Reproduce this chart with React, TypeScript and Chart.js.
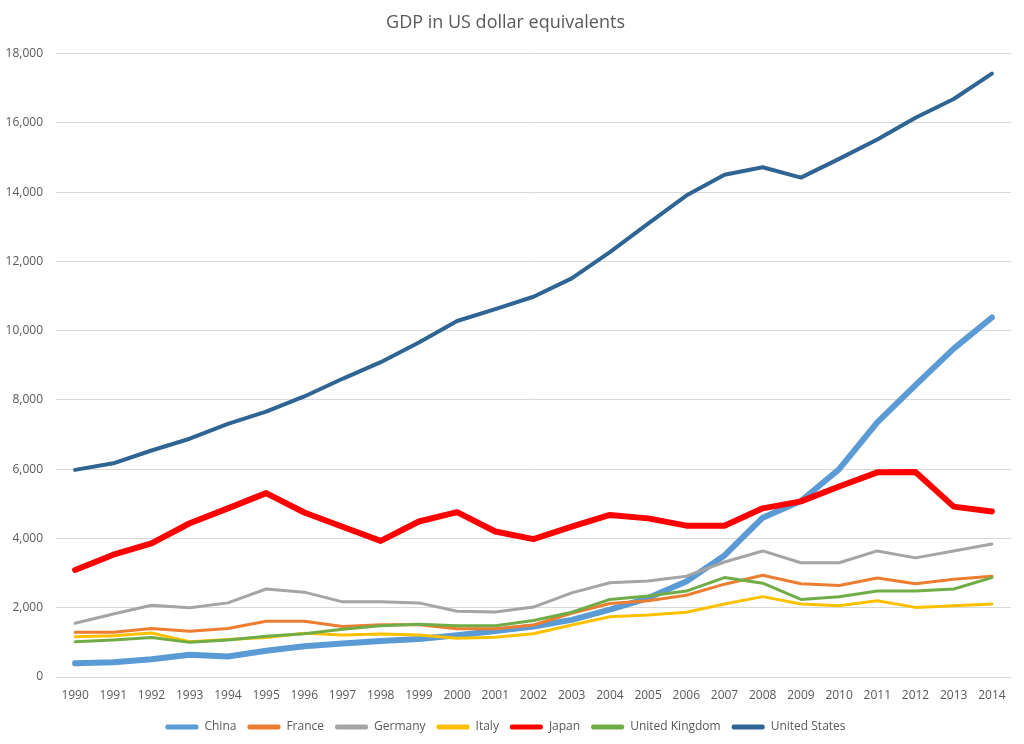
import React, { useEffect, useRef } from "react";
import { Chart, registerables } from "chart.js";

Chart.register(...registerables);

const years = ["1990","1991","1992","1993","1994","1995","1996","1997","1998","1999","2000","2001","2002","2003","2004","2005","2006","2007","2008","2009","2010","2011","2012","2013","2014"];

const china = [395, 424, 511, 640, 590, 760, 885, 965, 1040, 1095, 1205, 1330, 1460, 1650, 1945, 2280, 2760, 3510, 4600, 5080, 6000, 7350, 8430, 9480, 10380];
const france = [1290, 1290, 1400, 1320, 1400, 1610, 1610, 1460, 1510, 1510, 1390, 1390, 1500, 1840, 2120, 2200, 2360, 2680, 2940, 2690, 2640, 2860, 2690, 2820, 2910];
const germany = [1550, 1820, 2070, 2000, 2140, 2540, 2450, 2170, 2170, 2140, 1900, 1880, 2020, 2430, 2720, 2770, 2910, 3320, 3640, 3300, 3300, 3640, 3440, 3640, 3840];
const italy = [1160, 1190, 1270, 1020, 1080, 1140, 1260, 1210, 1240, 1210, 1120, 1150, 1250, 1500, 1740, 1790, 1870, 2110, 2320, 2110, 2060, 2200, 2010, 2060, 2110];
const japan = [3090, 3530, 3860, 4440, 4870, 5310, 4750, 4340, 3930, 4490, 4760, 4200, 3980, 4340, 4680, 4580, 4370, 4370, 4870, 5070, 5500, 5910, 5920, 4920, 4780];
const uk = [1020, 1070, 1140, 1000, 1070, 1180, 1250, 1380, 1480, 1520, 1480, 1480, 1630, 1870, 2240, 2340, 2480, 2870, 2710, 2240, 2320, 2480, 2480, 2540, 2870];
const us = [5980, 6170, 6540, 6880, 7310, 7660, 8100, 8610, 9090, 9660, 10280, 10620, 10980, 11510, 12270, 13090, 13900, 14500, 14720, 14420, 14960, 15520, 16150, 16690, 17420];

const seriesNames = ["China", "France", "Germany", "Italy", "Japan", "United Kingdom", "United States"];
const seriesValues = [china, france, germany, italy, japan, uk, us];
const seriesColors = ["#5b9bd5", "#ed7d31", "#a5a5a5", "#ffc000", "#ff0000", "#70ad47", "#2e6595"];
const seriesWidths = [6, 3, 3, 3, 6, 3, 4];

const yTickMax = 18000;
const yTickStep = 2000;

export default function App() {
  const ref = useRef<HTMLCanvasElement | null>(null);

  useEffect(() => {
    if (!ref.current) return;
    const textColor = "#595959";
    const chart = new Chart(ref.current, {
      type: "line",
      data: {
        labels: years,
        datasets: seriesNames.map((name, i) => ({
          label: name,
          data: seriesValues[i],
          borderColor: seriesColors[i],
          backgroundColor: seriesColors[i],
          borderWidth: seriesWidths[i],
          pointRadius: 0,
          pointHoverRadius: 0,
          tension: 0,
          fill: false,
          borderCapStyle: "round",
          borderJoinStyle: "round",
          order: seriesNames.length - i,
        })),
      },
      options: {
        animation: false,
        responsive: true,
        maintainAspectRatio: false,
        layout: { padding: { left: 0, right: 13, top: 0, bottom: 1 } },
        plugins: {
          title: {
            display: true,
            text: "GDP in US dollar equivalents",
            color: textColor,
            font: { family: "Open Sans", size: 18, weight: "normal" },
            padding: { top: 12, bottom: 20 },
          },
          legend: {
            position: "bottom",
            labels: {
              color: textColor,
              font: { family: "Open Sans", size: 12 },
              boxWidth: 33,
              boxHeight: 5,
              padding: 11,
              useBorderRadius: true,
              borderRadius: 2,
              generateLabels: (c: any) =>
                c.data.datasets.map((ds: any, i: number) => ({
                  text: ds.label,
                  fillStyle: ds.borderColor,
                  strokeStyle: ds.borderColor,
                  lineWidth: 0,
                  fontColor: textColor,
                  hidden: false,
                  datasetIndex: i,
                  borderRadius: 2,
                })),
            },
          },
          tooltip: { enabled: false },
        },
        scales: {
          x: {
            offset: true,
            grid: { display: false, drawTicks: false },
            border: { display: false },
            ticks: {
              color: textColor,
              font: { family: "Open Sans", size: 12 },
              padding: 11,
              maxRotation: 0,
              autoSkip: false,
            },
            afterFit: (s: any) => { s.height = 33; },
          },
          y: {
            min: 0,
            max: yTickMax,
            grid: { color: "#d9d9d9", drawTicks: false, lineWidth: 1 },
            border: { display: false },
            ticks: {
              stepSize: yTickStep,
              color: textColor,
              font: { family: "Open Sans", size: 12 },
              padding: 13,
            },
            afterFit: (s: any) => { s.width = 56; },
          },
        },
      },
    });
    return () => chart.destroy();
  }, []);

  return (
    <div style={{ position: "fixed", left: 0, top: 0, width: 1024, height: 744, background: "#fff" }}>
      <canvas ref={ref} />
    </div>
  );
}
